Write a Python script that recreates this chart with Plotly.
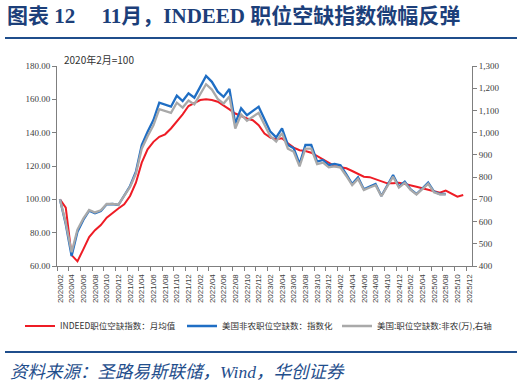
import plotly.graph_objects as go

# ---------------- data ----------------
months = [f"{y}/{m:02d}" for y in range(2020, 2026) for m in range(1, 13)][1:]  # 2020/02 .. 2025/12

# INDEED job postings index, monthly average (2020/02 = 100), to 2025/11
indeed = [100, 95, 66.5, 62.8, 70, 77.4, 81.5, 84.6, 89, 92,
          94.5, 97, 102, 110, 122, 130, 134.5, 137.5, 139, 142.5,
          146.5, 151, 156, 158, 159.6, 160, 159.6, 158.6, 156.5, 154,
          151.5, 150, 148.5, 147.5, 144.5, 139.5, 137, 136, 136.6, 133.6,
          131, 129.5, 129, 128, 126, 123.6, 121.6, 120, 119.3, 118.6,
          117, 115.2, 113.6, 113.3, 112, 111, 109.6, 109.6, 110, 109.2,
          108.6, 107.6, 106.6, 105.6, 104.8, 104, 105.2, 103.2, 101.6, 102.6]

# US nonfarm job openings, indexed (2020/02 = 100), to 2025/08
jolts_idx = [100, 85, 66, 80.6, 87.6, 93.2, 91.6, 93, 97, 97.2,
             96.6, 102, 108, 116.6, 132.6, 140.6, 147.6, 158, 157, 155.6,
             162.2, 159, 163.6, 161, 167.5, 174, 170.5, 164.6, 161.5, 166.2,
             145.6, 154.6, 150.5, 153, 155.6, 148, 140.6, 137.2, 142.6, 132.6,
             130.6, 121.2, 132.6, 132.6, 122.6, 123.6, 120.6, 121.2, 120.4, 115,
             109.2, 113.2, 106, 107.6, 109.2, 102, 108, 114.6, 107.6, 110.6,
             106, 103.2, 106.5, 110, 104.6, 103.2, 103.2]

# US job openings: nonfarm (10k), right axis, to 2025/08
jolts_lvl = [700, 595, 462, 564, 613, 652, 641, 651, 679, 680,
             676, 714, 756, 816, 928, 984, 1033, 1106, 1099, 1089,
             1135, 1113, 1145, 1127, 1173, 1218, 1194, 1152, 1131, 1163,
             1019, 1082, 1054, 1071, 1089, 1036, 984, 960, 998, 928,
             914, 848, 928, 928, 858, 865, 844, 848, 843, 805,
             764, 792, 742, 753, 764, 714, 756, 802, 753, 774,
             742, 722, 746, 770, 732, 722, 722]

left_ticks = [60, 80, 100, 120, 140, 160, 180]
right_ticks = [400, 500, 600, 700, 800, 900, 1000, 1100, 1200, 1300]

names = ["INDEED职位空缺指数：月均值", "美国非农职位空缺数：指数化", "美国:职位空缺数:非农(万),右轴"]

# ---------------- figure ----------------
AX = "#7F7F7F"
fig = go.Figure()
fig.add_trace(go.Scatter(x=list(range(len(indeed))), y=indeed, name=names[0], mode="lines",
                         legend="legend", line=dict(color="#EE1C25", width=2)))
fig.add_trace(go.Scatter(x=list(range(len(jolts_idx))), y=jolts_idx, name=names[1], mode="lines",
                         legend="legend2", line=dict(color="#1F6EC4", width=2.3)))
fig.add_trace(go.Scatter(x=list(range(len(jolts_lvl))), y=jolts_lvl, name=names[2], mode="lines",
                         legend="legend3", yaxis="y2", line=dict(color="#A9A9A9", width=2.3)))

n = len(months)
LEGFONT = dict(family="Noto Sans CJK SC", size=8.5, color="#333333")


def leg(xp):
    return dict(orientation="h", x=xp, xanchor="left", y=-0.30, yanchor="middle",
                font=LEGFONT, itemwidth=30, bgcolor="rgba(0,0,0,0)")


fig.update_layout(
    width=524, height=386, autosize=False,
    margin=dict(l=57, r=52, t=66, b=120),
    paper_bgcolor="white", plot_bgcolor="white",
    showlegend=True,
    xaxis=dict(range=[-0.5, n - 0.5], tickmode="array",
               tickvals=[i - 0.5 for i in range(0, n, 2)],
               ticktext=months[::2], ticklabelshift=3,
               tickangle=-90, ticks="outside", ticklen=4, tickcolor=AX,
               showline=True, linecolor=AX, linewidth=1,
               showgrid=False, zeroline=False,
               tickfont=dict(family="Liberation Sans", size=8, color="#404040")),
    yaxis=dict(range=[60, 180], tickmode="array", tickvals=left_ticks, tickformat=".2f",
               ticks="outside", ticklen=4, tickcolor=AX,
               showline=True, linecolor=AX, linewidth=1, showgrid=False, zeroline=False,
               tickfont=dict(family="Liberation Serif", size=9, color="#404040")),
    yaxis2=dict(range=[400, 1300], overlaying="y", side="right", tickmode="array",
                tickvals=right_ticks, tickformat=",d",
                ticks="outside", ticklen=4, tickcolor=AX,
                showline=True, linecolor=AX, linewidth=1, showgrid=False, zeroline=False,
                tickfont=dict(family="Liberation Serif", size=9, color="#404040")),
    legend=leg((20 - 57) / 415),
    legend2=leg((182 - 57) / 415),
    legend3=leg((337 - 57) / 415),
)

NAVY = "#1C3F7A"
fig.add_annotation(text="<b>图表 12\u00a0\u00a0\u00a0\u00a0\u00a011月，INDEED 职位空缺指数微幅反弹</b>",
                   xref="paper", yref="paper", x=-0.125, y=1.25, xanchor="left", yanchor="middle",
                   showarrow=False, font=dict(family="Liberation Serif, Noto Sans CJK SC", size=21, color=NAVY))
fig.add_annotation(text="2020年2月=100", xref="paper", yref="paper", x=0.012, y=1.03,
                   xanchor="left", yanchor="middle", showarrow=False,
                   font=dict(family="Noto Sans CJK SC", size=10, color="#333333"))
fig.add_annotation(text="<i>资料来源：圣路易斯联储，Wind，华创证券</i>", xref="paper", yref="paper",
                   x=-0.118, y=-0.53, xanchor="left", yanchor="middle", showarrow=False,
                   font=dict(family="Liberation Serif, Noto Sans CJK SC", size=17.5, color="#1F4E8C"))

for yy in (1.14, -0.43):
    fig.add_shape(type="line", xref="paper", yref="paper", x0=-0.1253, x1=1.1084, y0=yy, y1=yy,
                  line=dict(color="#1F4E8C", width=2))

fig.write_html("out.html")
